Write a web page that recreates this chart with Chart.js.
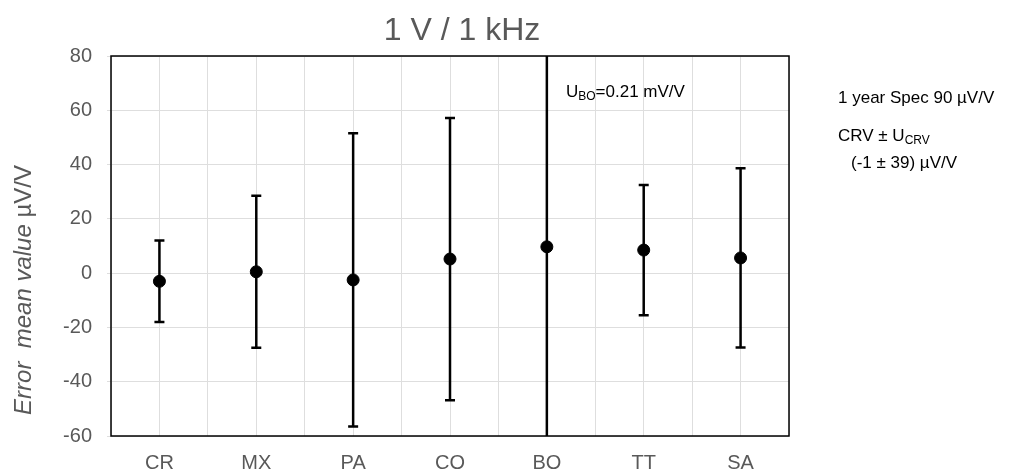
<!DOCTYPE html>
<html lang="en">
<head>
  <meta charset="UTF-8" />
  <title>1 V / 1 kHz</title>
  <script src="https://cdn.jsdelivr.net/npm/chart.js"></script>
  <style>
    body {
      margin: 0;
      padding: 0;
      background: #ffffff;
    }
    #wrap {
      width: 1014px;
      height: 475px;
    }
  </style>
</head>
<body>

<div id="wrap">
  <canvas id="errChart" width="1014" height="475"></canvas>
</div>

<script>
  // data
  const categories = ['CR', 'MX', 'PA', 'CO', 'BO', 'TT', 'SA'];
  const means = [-3, 0.5, -2.5, 5.2, 9.7, 8.5, 5.6];
  const errors = [15, 28, 54, 52, 210, 24, 33];
  const yTicks = [-60, -40, -20, 0, 20, 40, 60, 80];

  const FONT = "'Liberation Sans', Arial, sans-serif";
  const GREY = '#595959';

  const points = categories.map((c, i) => ({ x: i + 0.5, y: means[i] }));

  // error bars drawn through the chart scales
  const errorBars = {
    id: 'errorBars',
    beforeDatasetsDraw(chart) {
      const { ctx, chartArea, scales: { x, y } } = chart;
      ctx.save();
      ctx.beginPath();
      ctx.rect(chartArea.left, chartArea.top, chartArea.right - chartArea.left, chartArea.bottom - chartArea.top);
      ctx.clip();
      ctx.strokeStyle = '#000';
      ctx.lineWidth = 2.5;
      means.forEach((m, i) => {
        const px = x.getPixelForValue(i + 0.5);
        const top = y.getPixelForValue(m + errors[i]);
        const bot = y.getPixelForValue(m - errors[i]);
        ctx.beginPath();
        ctx.moveTo(px, top);
        ctx.lineTo(px, bot);
        ctx.moveTo(px - 5, top);
        ctx.lineTo(px + 5, top);
        ctx.moveTo(px - 5, bot);
        ctx.lineTo(px + 5, bot);
        ctx.stroke();
      });
      ctx.restore();

      // plot frame
      ctx.save();
      ctx.strokeStyle = '#000';
      ctx.lineWidth = 1.5;
      ctx.strokeRect(chartArea.left, chartArea.top, chartArea.right - chartArea.left, chartArea.bottom - chartArea.top);
      ctx.restore();
    },
    afterDraw(chart) {
      const { ctx } = chart;
      ctx.save();

      // title
      ctx.fillStyle = GREY;
      ctx.font = '32px ' + FONT;
      ctx.textAlign = 'center';
      ctx.textBaseline = 'alphabetic';
      ctx.fillText('1 V / 1 kHz', 462, 40);

      // y axis title, mixed italic / upright
      ctx.save();
      ctx.translate(31, 290);
      ctx.rotate(-Math.PI / 2);
      ctx.textAlign = 'left';
      const part1 = 'Error  mean value ';
      const part2 = 'µV/V';
      ctx.font = 'italic 24px ' + FONT;
      const w1 = ctx.measureText(part1).width;
      ctx.font = '24px ' + FONT;
      const w2 = ctx.measureText(part2).width;
      let sx = -(w1 + w2) / 2;
      ctx.font = 'italic 24px ' + FONT;
      ctx.fillText(part1, sx, 0);
      ctx.font = '24px ' + FONT;
      ctx.fillText(part2, sx + w1, 0);
      ctx.restore();

      // annotations, with subscripts
      ctx.fillStyle = '#000';
      ctx.textAlign = 'left';
      const sub = (main, subTxt, rest, x0, y0, size) => {
        ctx.font = size + 'px ' + FONT;
        ctx.fillText(main, x0, y0);
        let xx = x0 + ctx.measureText(main).width;
        ctx.font = Math.round(size * 0.68) + 'px ' + FONT;
        ctx.fillText(subTxt, xx, y0 + 3);
        xx += ctx.measureText(subTxt).width;
        ctx.font = size + 'px ' + FONT;
        ctx.fillText(rest, xx, y0);
      };
      sub('U', 'BO', '=0.21 mV/V', 566, 97, 17);

      ctx.font = '17px ' + FONT;
      ctx.fillText('1 year Spec 90 µV/V', 838, 103);
      sub('CRV ± U', 'CRV', '', 838, 141, 17);
      ctx.font = '17px ' + FONT;
      ctx.fillText('(-1 ± 39) µV/V', 851, 168);

      ctx.restore();
    }
  };

  new Chart(document.getElementById('errChart'), {
    type: 'scatter',
    data: {
      datasets: [{
        label: 'Error mean value',
        data: points,
        backgroundColor: '#000',
        borderColor: '#000',
        pointRadius: 6,
        pointHoverRadius: 6
      }]
    },
    options: {
      responsive: false,
      animation: false,
      layout: { padding: { left: 0, right: 225, top: 56, bottom: 0 } },
      plugins: {
        legend: { display: false },
        tooltip: { enabled: false }
      },
      scales: {
        x: {
          type: 'linear',
          min: 0,
          max: categories.length,
          afterFit(scale) { scale.height = 39; },
          grid: { color: '#dedede', lineWidth: 1, drawTicks: false },
          border: { display: false },
          ticks: {
            stepSize: 0.5,
            autoSkip: false,
            maxRotation: 0,
            padding: 15,
            color: GREY,
            font: { family: FONT, size: 20 },
            callback: (v) => Number.isInteger(v - 0.5) ? categories[v - 0.5] : ''
          }
        },
        y: {
          min: yTicks[0],
          max: yTicks[yTicks.length - 1],
          afterFit(scale) { scale.width = 111; },
          afterBuildTicks(scale) { scale.ticks = yTicks.map(v => ({ value: v })); },
          grid: { color: '#dedede', lineWidth: 1, tickLength: 4 },
          border: { display: false },
          ticks: {
            padding: 15,
            color: GREY,
            font: { family: FONT, size: 20 }
          }
        }
      }
    },
    plugins: [errorBars]
  });
</script>

</body>
</html>
